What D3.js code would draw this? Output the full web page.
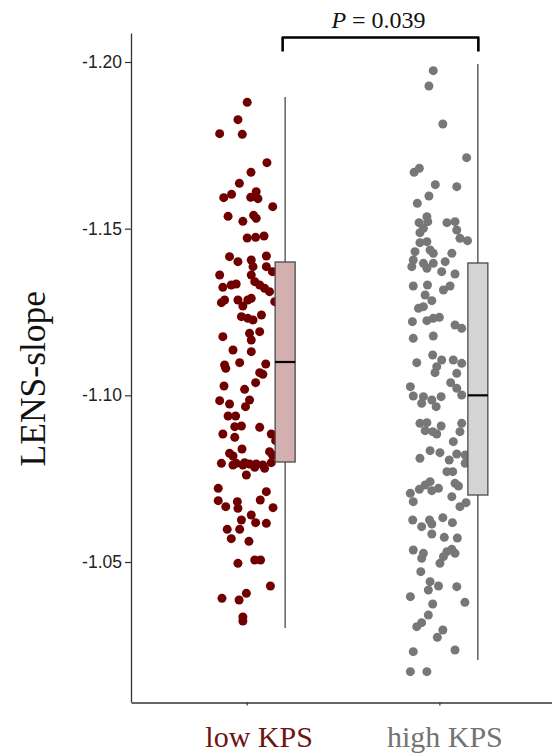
<!DOCTYPE html>
<html>
<head>
<meta charset="utf-8">
<script src="https://cdn.jsdelivr.net/npm/d3@7"></script>
<style>
  html, body { margin: 0; padding: 0; background: #fff; }
  svg { display: block; }
</style>
</head>
<body>
<div id="chart"></div>
<script>
// ---------------- data ----------------
const groups = ["low KPS", "high KPS"];
const yTicks = [-1.20, -1.15, -1.10, -1.05];
const pLabel = "0.039";

// jittered observations: value and jitter (-1..1 within the jitter band)
const lowValues = [-1.1879,-1.1827,-1.1785,-1.1783,-1.1698,-1.1669,-1.1636,-1.1593,-1.1603,-1.1594,
  -1.1611,-1.1590,-1.1566,-1.1537,-1.1522,-1.1540,-1.1531,-1.1472,-1.1474,-1.1478,
  -1.1416,-1.1401,-1.1406,-1.1418,-1.1386,-1.1386,-1.1371,-1.1361,-1.1361,-1.1324,
  -1.1331,-1.1334,-1.1341,-1.1331,-1.1321,-1.1311,-1.1278,-1.1286,-1.1286,-1.1268,
  -1.1286,-1.1291,-1.1281,-1.1236,-1.1231,-1.1226,-1.1241,-1.1186,-1.1191,-1.1166,
  -1.1176,-1.1136,-1.1131,-1.1091,-1.1081,-1.1098,-1.1094,-1.1068,-1.1063,-1.1038,
  -1.1028,-1.1018,-1.0984,-1.0974,-1.0986,-1.0966,-1.0938,-1.0938,-1.0906,-1.0908,
  -1.0904,-1.0884,-1.0874,-1.0884,-1.0864,-1.0839,-1.0826,-1.0818,-1.0831,-1.0821,
  -1.0796,-1.0796,-1.0798,-1.0794,-1.0794,-1.0791,-1.0798,-1.0791,-1.0791,-1.0784,
  -1.0781,-1.0761,-1.0721,-1.0711,-1.0684,-1.0666,-1.0681,-1.0661,-1.0686,-1.0663,
  -1.0626,-1.0641,-1.0618,-1.0616,-1.0598,-1.0598,-1.0570,-1.0562,-1.0496,-1.0506,
  -1.0506,-1.0428,-1.0391,-1.0386,-1.0406,-1.0323,-1.0335];
const lowJitter = [0.02,-0.30,-0.93,-0.15,0.70,0.15,-0.25,-0.79,-0.52,0.14,
  0.33,0.39,0.90,-0.64,-0.13,0.24,0.33,0.02,0.31,0.60,
  -0.59,-0.30,0.16,0.68,0.22,0.68,0.89,-0.93,0.16,-0.82,
  -0.53,-0.36,0.28,0.45,0.62,0.79,-0.87,-0.76,-0.30,-0.13,
  0.04,0.16,0.97,-0.18,0.04,0.22,0.51,0.10,0.45,0.16,
  -0.82,-0.47,0.16,-0.76,-0.72,-0.24,0.66,0.45,0.56,0.31,
  -0.78,-0.07,-0.93,-0.59,0.10,-0.04,-0.64,-0.38,-0.41,-0.18,
  0.45,-0.82,-0.41,0.85,1.00,-0.16,-0.59,-0.47,0.79,0.89,
  -0.87,-0.36,-0.07,0.10,0.33,0.56,0.85,-0.47,-0.13,0.28,
  0.62,-0.01,-0.98,0.68,-0.98,-0.72,-0.32,-0.30,0.47,0.91,
  -0.18,0.16,0.31,0.68,-0.67,-0.24,-0.53,0.08,-0.30,0.28,
  0.48,0.82,-0.85,-0.26,-0.01,-0.13,-0.13];

const highValues = [-1.1974,-1.1928,-1.1814,-1.1713,-1.1669,-1.1681,-1.1632,-1.1626,-1.1598,-1.1576,
  -1.1536,-1.1518,-1.1521,-1.1518,-1.1521,-1.1496,-1.1488,-1.1501,-1.1471,-1.1464,
  -1.1458,-1.1461,-1.1436,-1.1426,-1.1431,-1.1426,-1.1406,-1.1396,-1.1396,-1.1401,
  -1.1386,-1.1381,-1.1371,-1.1364,-1.1328,-1.1331,-1.1316,-1.1328,-1.1301,-1.1284,
  -1.1261,-1.1266,-1.1221,-1.1224,-1.1231,-1.1234,-1.1211,-1.1201,-1.1171,-1.1178,
  -1.1121,-1.1106,-1.1098,-1.1086,-1.1068,-1.1106,-1.1096,-1.1066,-1.1038,-1.1021,
  -1.1001,-1.1026,-1.0998,-1.0996,-1.0976,-1.0986,-1.0966,-1.0996,-1.0916,-1.0918,
  -1.0894,-1.0891,-1.0908,-1.0884,-1.0916,-1.0891,-1.0861,-1.0811,-1.0834,-1.0828,
  -1.0806,-1.0824,-1.0821,-1.0796,-1.0771,-1.0771,-1.0706,-1.0681,-1.0718,-1.0731,
  -1.0741,-1.0714,-1.0721,-1.0736,-1.0728,-1.0696,-1.0666,-1.0678,-1.0626,-1.0606,
  -1.0626,-1.0614,-1.0584,-1.0633,-1.0618,-1.0574,-1.0572,-1.0536,-1.0511,-1.0526,
  -1.0516,-1.0531,-1.0538,-1.0526,-1.0496,-1.0471,-1.0441,-1.0416,-1.0428,-1.0426,
  -1.0396,-1.0374,-1.0379,-1.0341,-1.0318,-1.0306,-1.0296,-1.0274,-1.0231,-1.0236,
  -1.0171,-1.0171];
const highJitter = [-0.21,-0.36,0.12,0.94,-0.87,-0.69,-0.14,0.60,-0.36,-0.76,
  -0.43,-0.70,-0.40,0.26,0.54,0.60,-0.67,-0.55,0.71,0.97,
  -0.67,-0.43,-0.32,-0.21,-0.84,0.43,-0.90,-0.55,-0.21,0.20,
  -0.95,-0.43,0.08,0.54,-0.90,-0.41,0.14,0.37,-0.49,-0.26,
  -0.72,-0.55,-0.93,-0.43,-0.21,0.00,0.54,0.77,-0.90,-0.21,
  -0.23,0.08,-0.78,-0.09,-0.15,0.48,0.77,0.60,0.39,0.60,
  0.77,-1.00,-0.90,-0.55,-0.61,-0.26,-0.11,0.06,-0.67,-0.43,
  -0.49,-0.23,0.06,-0.09,0.77,0.71,0.48,-0.67,-0.32,0.02,
  0.34,0.60,0.89,0.89,0.26,0.46,-1.00,-0.90,-0.69,-0.49,
  -0.32,-0.26,-0.03,0.54,0.66,0.43,0.71,0.92,-0.92,-0.61,
  -0.34,-0.26,-0.26,0.12,0.45,0.17,0.62,-0.90,-0.61,-0.55,
  0.14,0.26,0.43,0.54,0.02,-0.64,-0.32,-0.38,-0.03,0.60,
  -1.00,-0.23,0.88,-0.38,-0.61,-0.78,0.12,-0.07,-0.90,0.54,
  -1.00,-0.43];

// box statistics [whiskerLow(top), q1, median, q3, whiskerHigh(bottom)]
const lowBox  = [-1.1895, -1.1400, -1.1100, -1.0800, -1.0302];
const highBox = [-1.1994, -1.1397, -1.1000, -1.0701, -1.0206];

// ---------------- drawing ----------------
const W = 552, H = 754;
const pointColors = { "low KPS": "#700000", "high KPS": "#777777" };
const boxFills    = { "low KPS": "#d3afb0", "high KPS": "#d4d4d4" };
const labelColors = { "low KPS": "#6e1414", "high KPS": "#737373" };
const labelShift  = { "low KPS": 12, "high KPS": 5 };

const svg = d3.select("#chart").append("svg")
  .attr("width", W).attr("height", H);

const x = d3.scalePoint().domain(groups).range([131, 555]).padding(0.6);
const y = d3.scaleLinear().domain([-1.2087, -1.008]).range([33, 702]);
const jit = d3.scaleLinear().domain([-1, 1]).range([-29, 29]);
const boxOffset = 38.5, boxW = 20;

const series = [
  { g: "low KPS",  vals: lowValues,  jit: lowJitter,  box: lowBox },
  { g: "high KPS", vals: highValues, jit: highJitter, box: highBox }
];

// points
series.forEach(s => {
  svg.append("g").selectAll("circle")
    .data(s.vals.map((v, i) => ({ v, j: s.jit[i] })))
    .join("circle")
    .attr("cx", d => x(s.g) + jit(d.j))
    .attr("cy", d => y(d.v))
    .attr("r", 4.5)
    .attr("fill", pointColors[s.g]);
});

// boxplots
series.forEach(s => {
  const cx = x(s.g) + boxOffset;
  const b = s.box;
  const g = svg.append("g");
  g.append("line").attr("x1", cx).attr("x2", cx)
    .attr("y1", y(b[0])).attr("y2", y(b[4]))
    .attr("stroke", "#3a3a3a").attr("stroke-width", 1.2);
  g.append("rect")
    .attr("x", cx - boxW / 2).attr("width", boxW)
    .attr("y", y(b[1])).attr("height", y(b[3]) - y(b[1]))
    .attr("fill", boxFills[s.g]).attr("stroke", "#4a4a4a").attr("stroke-width", 1.3);
  g.append("line").attr("x1", cx - boxW / 2).attr("x2", cx + boxW / 2)
    .attr("y1", y(b[2])).attr("y2", y(b[2]))
    .attr("stroke", "#000").attr("stroke-width", 2.2);
});

// y axis
const yAxis = svg.append("g").attr("transform", "translate(131,0)")
  .call(d3.axisLeft(y).tickValues(yTicks).tickFormat(d => d.toFixed(2)).tickSize(6).tickSizeOuter(0).tickPadding(3));
yAxis.select(".domain").attr("stroke", "#333").attr("stroke-width", 1.3);
yAxis.selectAll(".tick line").attr("stroke", "#333").attr("stroke-width", 1.2);
yAxis.selectAll(".tick text")
  .attr("font-family", "'Liberation Sans', Arial, sans-serif")
  .attr("font-size", 17.5).attr("fill", "#222");

// x axis
const xAxis = svg.append("g").attr("transform", "translate(0,702.5)")
  .call(d3.axisBottom(x).tickSize(3).tickSizeOuter(0));
xAxis.select(".domain").attr("stroke", "#333").attr("stroke-width", 1.3);
xAxis.selectAll(".tick line").attr("stroke", "#333").attr("stroke-width", 1.2);
xAxis.selectAll(".tick text")
  .attr("font-family", "'Liberation Serif', 'Times New Roman', serif")
  .attr("font-size", 30)
  .attr("y", 44).attr("dy", 0)
  .attr("x", d => labelShift[d])
  .attr("fill", d => labelColors[d]);

// y axis title
svg.append("text")
  .attr("transform", `translate(45, ${y(-1.105)}) rotate(-90)`)
  .attr("text-anchor", "middle")
  .attr("font-family", "'Liberation Serif', 'Times New Roman', serif")
  .attr("font-size", 35.5).attr("fill", "#111")
  .text("LENS-slope");

// significance bracket
const bx1 = x("low KPS") + 36, bx2 = x("high KPS") + 39;
const byTop = 37.5, byBot = 51.5;
svg.append("path")
  .attr("d", d3.line()([[bx1, byBot], [bx1, byTop], [bx2, byTop], [bx2, byBot]]))
  .attr("fill", "none").attr("stroke", "#000").attr("stroke-width", 2.6)
  .attr("stroke-linejoin", "round");

const pt = svg.append("text")
  .attr("x", (bx1 + bx2) / 2 - 2).attr("y", 28)
  .attr("text-anchor", "middle")
  .attr("font-family", "'Liberation Serif', 'Times New Roman', serif")
  .attr("font-size", 24).attr("fill", "#111");
pt.append("tspan").attr("font-style", "italic").text("P");
pt.append("tspan").text(" = " + pLabel);
</script>
</body>
</html>
